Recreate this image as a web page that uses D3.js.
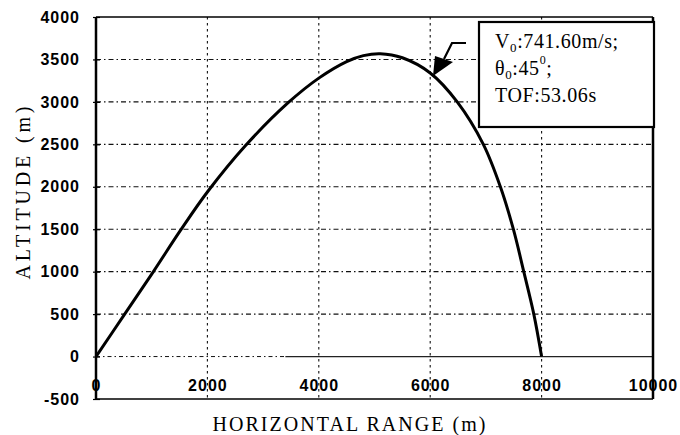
<!DOCTYPE html>
<html>
<head>
<meta charset="utf-8">
<script src="https://cdn.jsdelivr.net/npm/d3@7"></script>
<style>
  html, body { margin: 0; padding: 0; background: #fff; }
  svg { display: block; }
  .tick text { font-family: "Liberation Sans", Arial, sans-serif; font-weight: bold; font-size: 16px; letter-spacing: 1px; fill: #000; }
</style>
</head>
<body>
<script>
// ---- data ----
const rangeX = [0, 521, 1025, 1510, 2013, 2677, 3450, 4000, 4500, 4800, 5103, 5500, 6000, 6485, 6954, 7260, 7493, 7680, 7860, 8000];
const altitudeY = [0, 505, 995, 1480, 1950, 2480, 2990, 3280, 3475, 3545, 3568, 3520, 3341, 3000, 2500, 2000, 1500, 1000, 500, 0];
const xTicks = [0, 2000, 4000, 6000, 8000, 10000];
const yTicks = [-500, 0, 500, 1000, 1500, 2000, 2500, 3000, 3500, 4000];
const xGrid = [2000, 4000, 6000, 8000];
const yGrid = [500, 1000, 1500, 2000, 2500, 3000, 3500];
const xTitle = "HORIZONTAL RANGE (m)";
const yTitle = "ALTITUDE (m)";
const noteLines = [
  [{t: "V"}, {t: "0", sub: true}, {t: ":741.60m/s;"}],
  [{t: "θ"}, {t: "0", sub: true}, {t: ":45"}, {t: "0", sup: true}, {t: ";"}],
  [{t: "TOF:53.06s"}]
];

const W = 680, H = 435;
const L = 96, R = 653, T = 17, B = 399;

const svg = d3.select("body").append("svg").attr("width", W).attr("height", H);
svg.append("rect").attr("width", W).attr("height", H).attr("fill", "#fff");

const x = d3.scaleLinear().domain([0, 10000]).range([L, R]);
const y = d3.scaleLinear().domain([-500, 4000]).range([B, T]);
const fmt = d => String(d);

// grid
const g = svg.append("g");
g.selectAll(".hg").data(yGrid).join("line")
  .attr("x1", L).attr("x2", R).attr("y1", d => y(d)).attr("y2", d => y(d))
  .attr("stroke", "#111").attr("stroke-width", 1.1).attr("stroke-dasharray", "5,3,1.5,3");
g.selectAll(".vg").data(xGrid).join("line")
  .attr("x1", d => x(d)).attr("x2", d => x(d)).attr("y1", T).attr("y2", B)
  .attr("stroke", "#111").attr("stroke-width", 1.1).attr("stroke-dasharray", "2.5,3.5");
// zero line
g.append("line").attr("x1", L).attr("x2", x(3400)).attr("y1", y(0)).attr("y2", y(0))
  .attr("stroke", "#111").attr("stroke-width", 1).attr("stroke-dasharray", "4,3,1.5,3");
g.append("line").attr("x1", x(3400)).attr("x2", R).attr("y1", y(0)).attr("y2", y(0))
  .attr("stroke", "#222").attr("stroke-width", 1.2);

// frame
svg.append("line").attr("x1", L).attr("x2", R).attr("y1", T).attr("y2", T).attr("stroke", "#000").attr("stroke-width", 1.5);
svg.append("line").attr("x1", L).attr("x2", R).attr("y1", B).attr("y2", B).attr("stroke", "#000").attr("stroke-width", 1.5);
svg.append("line").attr("x1", R).attr("x2", R).attr("y1", T).attr("y2", B).attr("stroke", "#000").attr("stroke-width", 2.5);

// axes
const ya = svg.append("g").attr("transform", `translate(${L},0)`)
  .call(d3.axisLeft(y).tickValues(yTicks).tickFormat(fmt).tickSize(4).tickPadding(12));
ya.select(".domain").remove();
ya.selectAll(".tick line").attr("x2", 4).attr("x1", -3).attr("stroke", "#000").attr("stroke-width", 1.2);
svg.append("line").attr("x1", L).attr("x2", L).attr("y1", T).attr("y2", B).attr("stroke", "#000").attr("stroke-width", 2.5);

const xa = svg.append("g").attr("transform", `translate(0,${B})`)
  .call(d3.axisTop(x).tickValues(xTicks).tickFormat(fmt).tickSize(0).tickPadding(8));
xa.select(".domain").remove();

// trajectory
const pts = rangeX.map((d, i) => [d, altitudeY[i]]);
svg.append("path").datum(pts)
  .attr("fill", "none").attr("stroke", "#000").attr("stroke-width", 3)
  .attr("d", d3.line().x(d => x(d[0])).y(d => y(d[1])).curve(d3.curveCatmullRom.alpha(0.5)));

// annotation box
svg.append("rect").attr("x", 479).attr("y", 22).attr("width", 175).attr("height", 105)
  .attr("fill", "#fff").attr("stroke", "#000").attr("stroke-width", 2.2);
const nt = svg.append("g").attr("font-family", "'Liberation Serif', 'Times New Roman', serif").attr("font-size", 20).attr("fill", "#000");
noteLines.forEach((line, i) => {
  const t = nt.append("text").attr("x", 495).attr("y", 48 + i * 27).attr("letter-spacing", 0.6);
  let shift = 0;
  line.forEach(p => {
    const ts = t.append("tspan").text(p.t);
    if (p.sub) { ts.attr("font-size", 13).attr("dy", 4 - shift); shift = 4; }
    else if (p.sup) { ts.attr("font-size", 12).attr("dy", -11 - shift); shift = -11; }
    else if (shift !== 0) { ts.attr("dy", -shift); shift = 0; }
  });
});

// arrow
svg.append("path").attr("d", "M466,43 L452,43 L444,59").attr("fill", "none").attr("stroke", "#000").attr("stroke-width", 2.2);
svg.append("path").attr("d", "M435,56 L453,62 L433,76 Z").attr("fill", "#000");

// axis titles
svg.append("text").attr("x", 349).attr("y", 431).attr("text-anchor", "middle")
  .attr("font-family", "'Liberation Serif', 'Times New Roman', serif").attr("font-size", 20)
  .attr("textLength", 273).attr("lengthAdjust", "spacing").text(xTitle);
svg.append("text").attr("transform", "translate(30,193) rotate(-90)").attr("text-anchor", "middle")
  .attr("font-family", "'Liberation Serif', 'Times New Roman', serif").attr("font-size", 20)
  .attr("textLength", 173).attr("lengthAdjust", "spacing").text(yTitle);
</script>
</body>
</html>
